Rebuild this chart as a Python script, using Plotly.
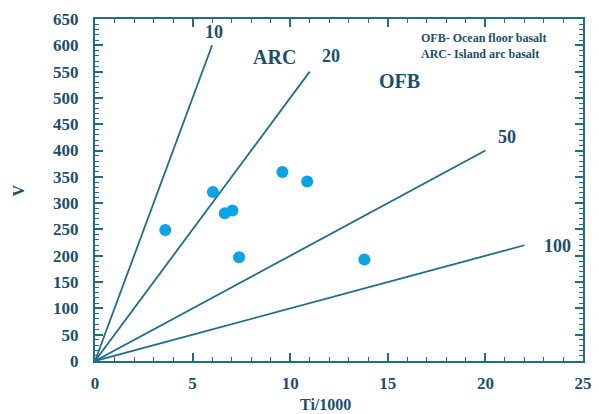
import plotly.graph_objects as go

# Sample data (Ti/1000, V)
ti_1000 = [3.6, 6.04, 6.65, 7.04, 7.38, 9.6, 10.87, 13.8]
v_ppm = [249, 321, 281, 286, 197, 359, 341, 193]

# Ti/V reference lines: ratio, end point (Ti/1000, V)
ratios = [10, 20, 50, 100]
ratio_x_end = [6.0, 11.0, 20.0, 22.0]
ratio_v_end = [600, 550, 400, 220]
ratio_labels = ["10", "20", "50", "100"]
ratio_label_x = [6.1, 12.1, 21.1, 23.7]
ratio_label_y = [625, 580, 425, 218]

# Field labels
field_names = ["ARC", "OFB"]
field_x = [9.2, 15.6]
field_y = [578, 533]

legend_lines = ["OFB- Ocean floor basalt", "ARC- Island arc basalt"]

x_ticks = [0, 5, 10, 15, 20, 25]
y_ticks = list(range(0, 651, 50))

TEXT = "#1b4f6e"
LINE = "#1f6c8c"
FONT = "Liberation Serif"

fig = go.Figure()

for xe, ve in zip(ratio_x_end, ratio_v_end):
    fig.add_trace(go.Scatter(x=[0, xe], y=[0, ve], mode="lines",
                             line=dict(color=LINE, width=1.8),
                             showlegend=False, hoverinfo="skip"))

fig.add_trace(go.Scatter(x=ti_1000, y=v_ppm, mode="markers",
                         marker=dict(color="#0aa3e6", size=12),
                         showlegend=False))

for t, x, y in zip(ratio_labels, ratio_label_x, ratio_label_y):
    fig.add_annotation(x=x, y=y, text="<b>%s</b>" % t, showarrow=False,
                       font=dict(family=FONT, size=18, color=TEXT))

for t, x, y in zip(field_names, field_x, field_y):
    fig.add_annotation(x=x, y=y, text="<b>%s</b>" % t, showarrow=False,
                       font=dict(family=FONT, size=20, color=TEXT))

fig.add_annotation(xref="paper", yref="paper", x=0.664, y=0.97, xanchor="left",
                   yanchor="top", align="left",
                   text="<b>%s</b><br><b>%s</b>" % tuple(legend_lines),
                   showarrow=False,
                   font=dict(family=FONT, size=12, color=TEXT))

axis_common = dict(showline=True, linecolor=LINE, linewidth=2, mirror="ticks",
                   ticks="inside", tickcolor=LINE, ticklen=8, tickwidth=1.5,
                   showgrid=False, zeroline=False,
                   tickfont=dict(family=FONT, size=17, color=TEXT, weight="bold"))

fig.update_xaxes(range=[0, 25], tickvals=x_ticks,
                 ticktext=["<b>%d</b>" % v for v in x_ticks],
                 minor=dict(dtick=1, ticks="inside", ticklen=4, tickcolor=LINE, tickwidth=1.2),
                 ticklabelstandoff=6,
                 **axis_common)
fig.update_yaxes(range=[0, 650], tickvals=y_ticks,
                 ticktext=["<b>%d</b>" % v for v in y_ticks],
                 minor=dict(dtick=10, ticks="inside", ticklen=4, tickcolor=LINE, tickwidth=1.2),
                 ticklabelstandoff=11,
                 **axis_common)

fig.add_annotation(xref="paper", yref="paper", x=0.473, y=-0.128, yanchor="middle",
                   xanchor="center",
                   text="<b>Ti/1000</b>", showarrow=False,
                   font=dict(family=FONT, size=16, color=TEXT))
fig.add_annotation(xref="paper", yref="paper", x=-0.157, y=0.5, xanchor="center",
                   text="<b>V</b>", textangle=-90, showarrow=False,
                   font=dict(family=FONT, size=16, color=TEXT))

fig.update_layout(width=599, height=414,
                  margin=dict(l=95, r=7, t=19, b=53),
                  paper_bgcolor="white", plot_bgcolor="white")

fig.write_html("out.html")
